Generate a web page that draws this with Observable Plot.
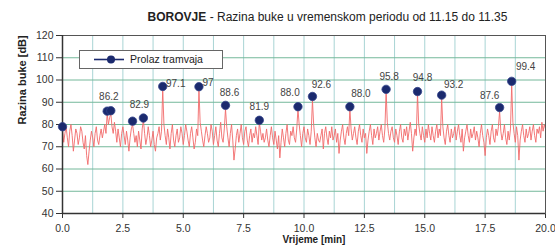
<!DOCTYPE html>
<html>
<head>
<meta charset="utf-8">
<script src="https://cdn.jsdelivr.net/npm/d3@7"></script>
<script src="https://cdn.jsdelivr.net/npm/@observablehq/plot@0.6"></script>
<style>
  html, body { margin: 0; padding: 0; background: #fff; }
  #wrap { position: relative; width: 555px; height: 248px; font-family: "Liberation Sans", Arial, sans-serif; }
  #title { position: absolute; left: 0; width: 555px; top: 10px; text-align: center; padding-left: 100px; box-sizing: border-box; font-size: 12px; color: #222; white-space: nowrap; }
  #legend { position: absolute; left: 79px; top: 50px; width: 142px; height: 17px; border: 1px solid #666; background: #fff; font-size: 10.5px; color: #222; }
  #legend svg { position: absolute; left: 0; top: 0; }
  #legend span { position: absolute; left: 50px; top: 2px; white-space: nowrap; }
  #chart { position: absolute; left: 0; top: 0; }
</style>
</head>
<body>
<div id="wrap">
  <div id="chart"></div>
  <div id="title"><b>BOROVJE</b> - Razina buke u vremenskom periodu od 11.15 do 11.35</div>
  <div id="legend">
    <svg width="50" height="17"><line x1="14" y1="8.5" x2="44" y2="8.5" stroke="#1b2a6e" stroke-width="1.6"/><circle cx="31" cy="8.5" r="4" fill="#1b2a6e"/></svg>
    <span>Prolaz tramvaja</span>
  </div>
</div>
<script>
// Noise level, one value every 0.05 min, rows = one minute each
const noiseStep = 0.05;
const noiseLevels = [
  78, 72, 76, 79, 74, 70, 77, 80, 75, 68, 73, 78, 76, 71, 74, 79, 77, 72, 69, 75,
  66, 62, 68, 73, 77, 74, 70, 76, 79, 73, 71, 75, 78, 74, 77, 80, 76, 85, 80, 83,
  85, 79, 76, 81, 77, 72, 78, 74, 70, 76, 79, 75, 71, 77, 73, 68, 74, 78, 80, 76,
  72, 75, 70, 77, 73, 69, 78, 82, 76, 71, 74, 79, 75, 70, 73, 77, 71, 68, 74, 76,
  79, 73, 77, 96, 80, 75, 71, 78, 74, 69, 76, 80, 73, 70, 75, 78, 72, 74, 79, 76,
  71, 75, 80, 77, 73, 70, 76, 79, 74, 69, 72, 78, 75, 96, 81, 77, 73, 70, 75, 79,
  76, 72, 74, 80, 77, 71, 75, 79, 73, 70, 76, 81, 74, 72, 78, 87, 79, 74, 70, 76,
  80, 73, 64, 69, 75, 78, 72, 76, 80, 74, 71, 77, 79, 73, 70, 75, 78, 72, 76, 74,
  79, 75, 71, 81, 77, 73, 76, 72, 74, 78, 73, 70, 75, 79, 74, 71, 77, 73, 69, 75,
  65, 72, 78, 74, 70, 76, 80, 73, 71, 77, 75, 79, 74, 72, 78, 87, 80, 75, 70, 76,
  79, 74, 72, 78, 75, 71, 77, 91, 80, 74, 70, 76, 73, 72, 75, 78, 69, 76, 79, 74,
  71, 77, 74, 79, 73, 75, 78, 72, 76, 67, 73, 77, 80, 74, 71, 76, 79, 75, 87, 78,
  73, 76, 79, 74, 71, 77, 80, 75, 72, 78, 74, 76, 67, 73, 77, 80, 75, 71, 78, 74,
  76, 79, 73, 77, 80, 75, 72, 78, 95, 81, 76, 73, 77, 79, 74, 72, 78, 75, 71, 77,
  80, 74, 72, 78, 75, 79, 73, 77, 81, 76, 68, 74, 78, 75, 94, 80, 76, 73, 79, 75,
  72, 78, 74, 80, 76, 73, 79, 75, 72, 77, 80, 74, 78, 75, 92, 79, 74, 71, 77, 80,
  75, 72, 78, 74, 76, 79, 73, 77, 80, 75, 72, 78, 68, 74, 77, 80, 75, 72, 78, 74,
  76, 79, 73, 77, 74, 70, 76, 80, 75, 72, 66, 74, 78, 75, 71, 77, 80, 74, 72, 78,
  75, 79, 86, 77, 73, 76, 80, 74, 71, 77, 73, 78, 98, 81, 76, 72, 79, 75, 64, 73,
  77, 80, 75, 72, 78, 74, 76, 79, 73, 77, 80, 75, 72, 78, 76, 79, 74, 81, 77, 80,
  78
];

// Tram passages
const tramTimes  = [0.0, 1.85, 2.0, 2.9, 3.35, 4.15, 5.65, 6.75, 8.15, 9.75, 10.35, 11.9, 13.4, 14.7, 15.7, 18.1, 18.6];
const tramLevels = [79.0, 86.0, 86.2, 81.5, 82.9, 97.1, 97.0, 88.6, 81.9, 88.0, 92.6, 88.0, 95.8, 94.8, 93.2, 87.6, 99.4];
const tramLabels = ["", "", "86.2", "", "82.9", "97.1", "97", "88.6", "81.9", "88.0", "92.6", "88.0", "95.8", "94.8", "93.2", "87.6", "99.4"];
// label nudges [dx, dy] in px
const labelNudge = [[0,0],[0,0],[-2,-14],[0,0],[-4,-13],[13,-3],[9,-4],[4,-13],[0,-13],[-8,-14],[9,-12],[11,-13],[3,-13],[5,-14],[12,-10],[-10,-12],[14,-15]];

const xTicks = [0, 2.5, 5, 7.5, 10, 12.5, 15, 17.5, 20];
const xGrid = [1.25, 2.5, 3.75, 5, 6.25, 7.5, 8.75, 10, 11.25, 12.5, 13.75, 15, 16.25, 17.5, 18.75];
const yTicks = [40, 50, 60, 70, 80, 90, 100, 110, 120];
const yGrid = [50, 60, 70, 80, 90, 100, 110];

const noise = noiseLevels.map((v, i) => ({t: i * noiseStep, v}));
const trams = tramTimes.map((t, i) => ({t, v: tramLevels[i], label: tramLabels[i], dx: labelNudge[i][0], dy: labelNudge[i][1]}));

const chart = Plot.plot({
  width: 555,
  height: 248,
  marginLeft: 62,
  marginRight: 10,
  marginTop: 35,
  marginBottom: 35,
  style: {fontFamily: "'Liberation Sans', Arial, sans-serif", fontSize: "10.5px", color: "#333", background: "transparent"},
  x: {domain: [0, 20], ticks: xTicks, tickFormat: d3.format(".1f"), tickSize: 5, tickPadding: 6, label: null},
  y: {domain: [40, 120], ticks: yTicks, tickSize: 6, tickPadding: 3, label: null},
  marks: [
    Plot.ruleX(xGrid, {stroke: "#a8d4d4", strokeWidth: 1}),
    Plot.ruleY(yGrid, {stroke: "#74b89a", strokeWidth: 1}),
    Plot.line(noise, {x: "t", y: "v", stroke: "#f26a6a", strokeWidth: 0.9}),
    Plot.frame({stroke: "#555", strokeWidth: 1}),
    Plot.ruleY([40], {stroke: "#333", strokeWidth: 1.5}),
    Plot.ruleX([0], {stroke: "#333", strokeWidth: 1.5}),
    Plot.dot(trams, {x: "t", y: "v", r: 4.2, fill: "#1b2a6e", stroke: "#34448a", strokeWidth: 0.8}),
    ...trams.filter(d => d.label).map(d =>
      Plot.text([d], {x: "t", y: "v", text: "label", dx: d.dx, dy: d.dy, fill: "#444", fontSize: 10})
    ),
    Plot.text(["Razina buke [dB]"], {frameAnchor: "left", dx: -40, rotate: -90, fontWeight: "bold", fontSize: 11, fill: "#222"}),
    Plot.text(["Vrijeme [min]"], {frameAnchor: "bottom", dx: 10, dy: 29, fontWeight: "bold", fontSize: 10, fill: "#222"})
  ]
});
document.getElementById("chart").appendChild(chart);
</script>
</body>
</html>
